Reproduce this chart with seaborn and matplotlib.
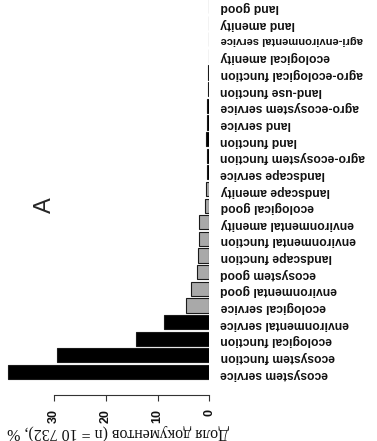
import matplotlib
matplotlib.use("Agg")
import matplotlib.pyplot as plt
import seaborn as sns
import pandas as pd

# terms listed top -> bottom as they appear in the picture
terms = [
    "land good", "land amenity", "agri-environmental service", "ecological amenity",
    "agro-ecological function", "land-use function", "agro-ecosystem service",
    "land service", "land function", "agro-ecosystem function", "landscape service",
    "landscape amenity", "ecological good", "environmental amenity",
    "environmental function", "landscape function", "ecosystem good",
    "environmental good", "ecological service", "environmental service",
    "ecological function", "ecosystem function", "ecosystem service",
]
shares = [
    0.1, 0.1, 0.15, 0.15,
    0.2, 0.2, 0.5,
    0.5, 0.55, 0.5, 0.5,
    0.6, 0.9, 1.9,
    1.9, 2.2, 2.3,
    3.5, 4.5, 8.8,
    14.2, 29.4, 38.9,
]
black_terms = [
    "agro-ecosystem service", "land service", "land function",
    "agro-ecosystem function", "landscape service",
    "environmental service", "ecological function", "ecosystem function",
    "ecosystem service",
]
x_ticks = [0, 10, 20, 30]
x_title = "Доля документов (n = 10 732), %"
panel = "A"

sns.set_style("white")
plt.rcParams["font.family"] = ["Liberation Sans", "DejaVu Sans"]

df = pd.DataFrame({"term": terms, "share": shares})
pal = {t: ("#000000" if t in black_terms else "#a9a9a9") for t in terms}

W, H = 377, 441
zero_px, px_per_unit = 209.3, 5.17
fig = plt.figure(figsize=(W / 100, H / 100), dpi=100)
ax = fig.add_axes([0, 1 - 395 / H, zero_px / W, 395 / H])

sns.barplot(data=df, x="share", y="term", hue="term", palette=pal, legend=False,
            orient="h", width=0.85, edgecolor="#1a1a1a", linewidth=0.8,
            saturation=1, ax=ax)

ax.set_xlim(zero_px / px_per_unit, 0)
ax.set_ylim(23.38, -0.36)
ax.set_xlabel("")
ax.set_ylabel("")

ax.yaxis.tick_right()
ax.tick_params(axis="y", length=0, pad=8, labelsize=8.7, labelrotation=180,
               labelcolor="#111111")
for lab in ax.get_yticklabels():
    lab.set_fontweight("bold")
    if len(lab.get_text()) > 24:
        lab.set_fontsize(8.0)  # longest label has to stay inside the picture
ax.set_xticks(x_ticks)
ax.tick_params(axis="x", bottom=True, length=4, width=0.8, color="#333333",
               labelrotation=90, labelsize=9, pad=6, labelcolor="#111111")
for lab in ax.get_xticklabels():
    lab.set_fontweight("bold")

for s in ["left", "right", "top"]:
    ax.spines[s].set_visible(False)
ax.spines["bottom"].set_bounds(0, 30)
ax.spines["bottom"].set_color("#333333")
ax.spines["bottom"].set_linewidth(0.8)

fig.text(118 / W, 1 - 432 / H, x_title, rotation=180, family="Liberation Serif",
         size=11.5, ha="center", va="center", color="#111111")
fig.text(45 / W, 1 - 205 / H, panel, rotation=90, size=17, ha="center", va="center")

fig.savefig("out.png", dpi=100)
